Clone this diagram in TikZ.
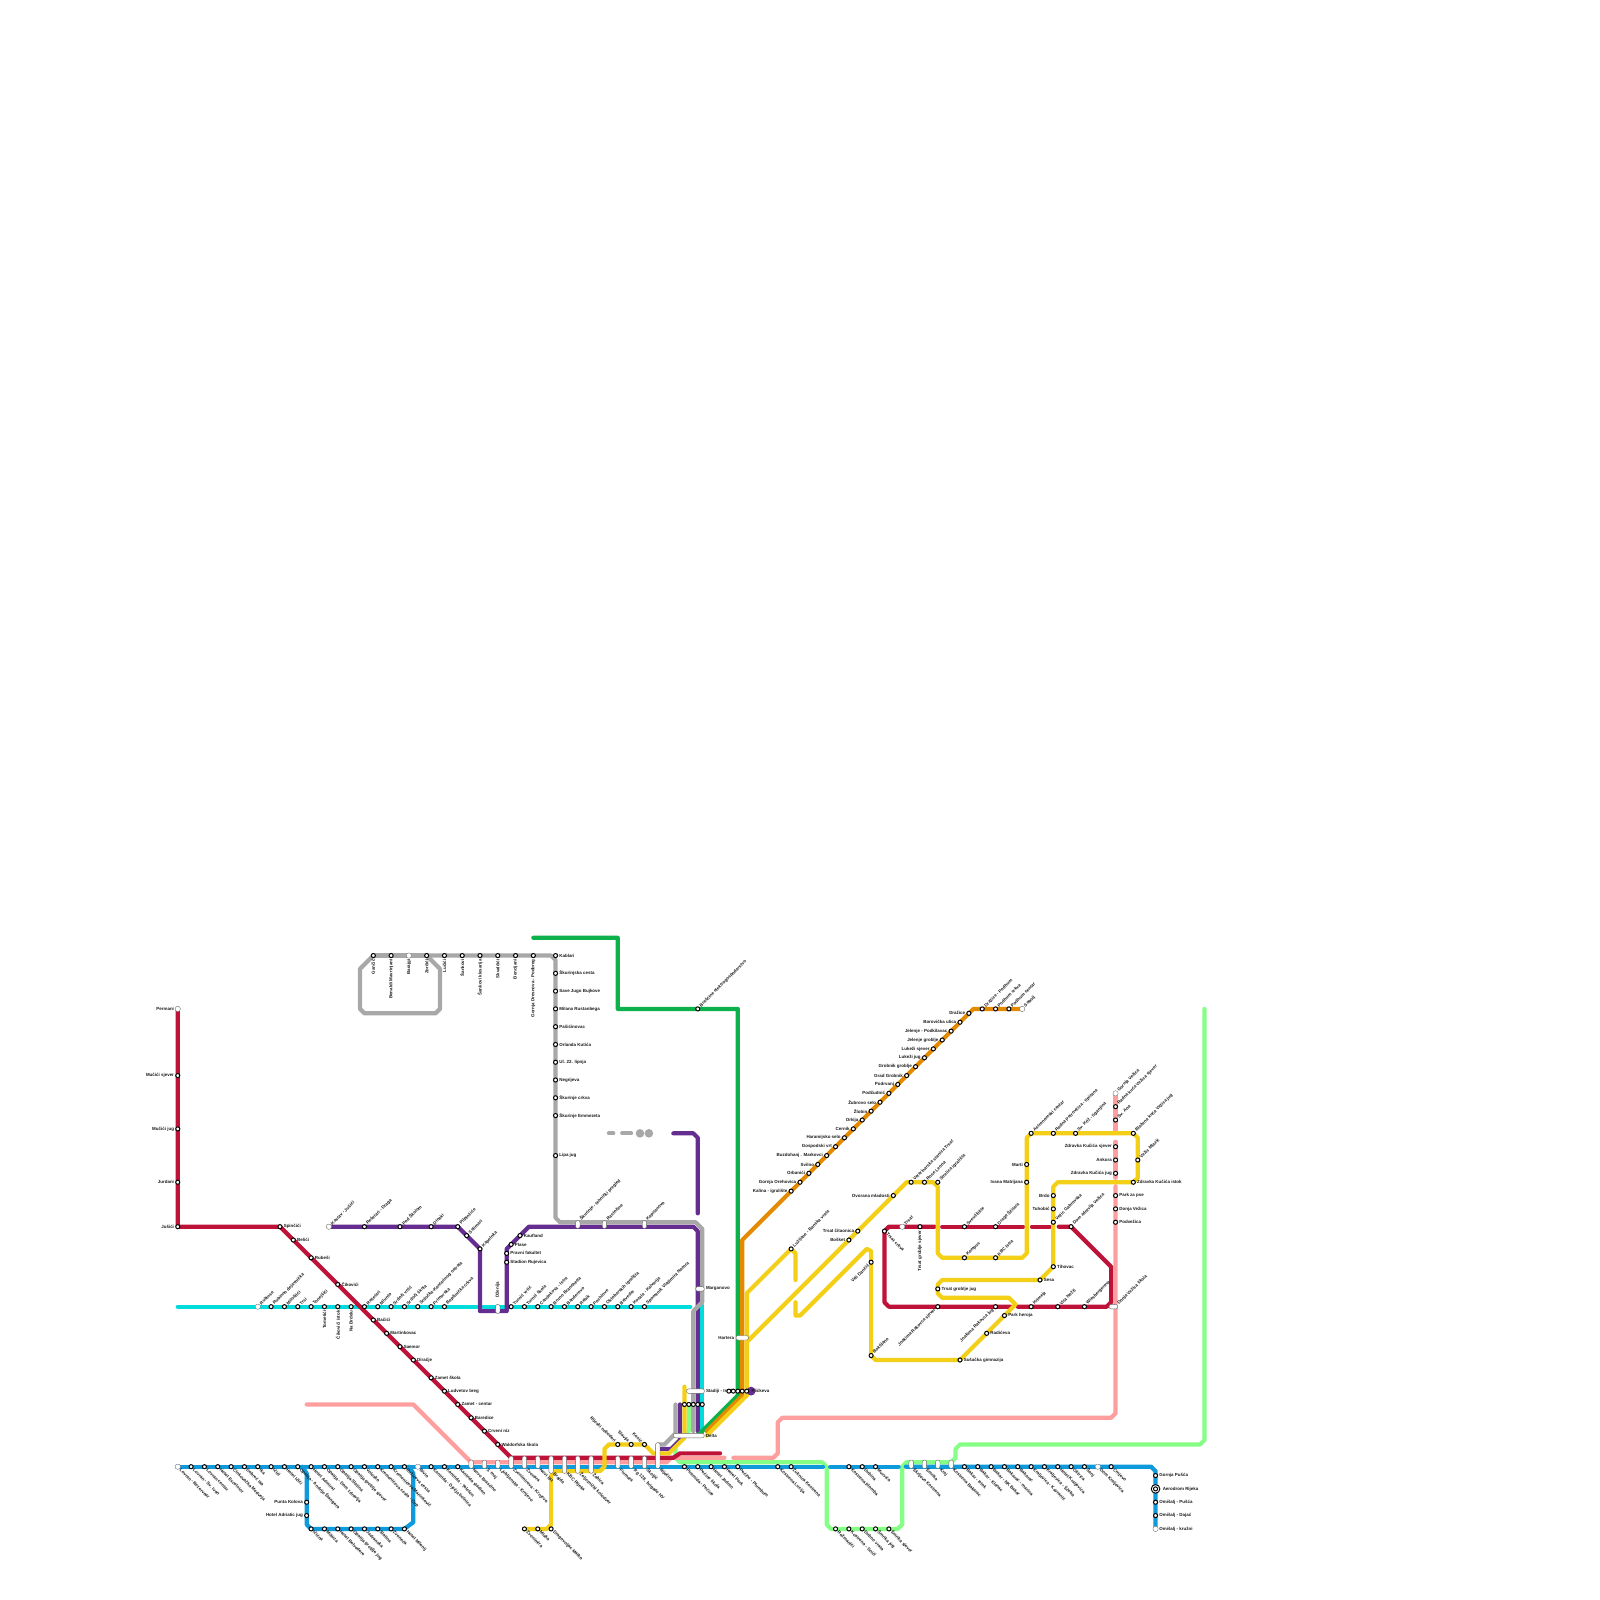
\documentclass[tikz,border=0pt]{standalone}
\usepackage{fontspec}
\setmainfont{Liberation Sans}
\usetikzlibrary{positioning}
\definecolor{lnred}{HTML}{BE1238}
\definecolor{lnteal}{HTML}{00DCDC}
\definecolor{lnblue}{HTML}{0E9ADB}
\definecolor{lngray}{HTML}{A8A8A8}
\definecolor{lnpurple}{HTML}{662D91}
\definecolor{lngreen}{HTML}{0DB14B}
\definecolor{lnorange}{HTML}{E38A00}
\definecolor{lnyellow}{HTML}{F3CF17}
\definecolor{lnlime}{HTML}{85FF85}
\definecolor{lnpink}{HTML}{FF9E9E}
\newcommand{\labfont}{\fontsize{4.45}{5}\selectfont\bfseries}
\tikzset{
    route/.style={line width=4.2pt,line cap=round,line join=round},
    stn/.style={circle,draw=black,fill=white,line width=1pt,inner sep=0pt,minimum size=4.1pt},
    stnopen/.style={circle,draw=black!45,fill=white,line width=0.4pt,inner sep=0pt,minimum size=5.3pt},
    capsule/.style={draw=black!60,fill=white,line width=0.4pt,inner sep=0pt,rounded corners=2pt},
    capv/.style={capsule,minimum width=4.4pt},
    caph/.style={capsule,minimum height=4.5pt},
    lab/.style={font=\labfont,text=black!90,inner xsep=3.6pt,inner ysep=0pt},
    labE/.style={lab,anchor=west},
    labW/.style={lab,anchor=east},
    labUR/.style={lab,anchor=west,rotate=45},
    labDR/.style={lab,anchor=west,rotate=-45},
    labDL/.style={lab,anchor=east,rotate=45},
    labUL/.style={lab,anchor=east,rotate=-45},
    labDN/.style={lab,anchor=east,rotate=90},
    labUP/.style={lab,anchor=west,rotate=90}
}
\newcommand{\stnrow}[2]{%
  \foreach \x/\y/\name in {#2}{
    \node[stn] (s\x-\y) at (\x,\y) {};
    \node[#1] (t\x-\y) at (s\x-\y.center) {\name};
  }}
\begin{document}
\begin{tikzpicture}[x=4.4444pt,y=-4.4444pt]
  \useasboundingbox (0,0) rectangle (360,360);

  \draw[route,lnlime] (271,227)--(271,324)--(270,325)--(216,325)--(215,326)--(215,328)--(214,329)--(204,329)--(203,330)--(203,343)--(202,344)--(187,344)--(186,343)--(186,330)--(185,329)--(153,329)--(152,328)--(152,325)--(155,322)--(155,316);
  \draw[route,lnpink] (69,316)--(93,316)--(106,329)--(150,329)--(151,328)--(163,328);
  \draw[route,lnpink] (165,328)--(174,328)--(175,327)--(175,320)--(176,319)--(250,319)--(251,318)--(251,266.9);
  \draw[route,lnpink] (251,265)--(251,256.9);
  \draw[route,lnpink] (251,254.5)--(251,246);
  \draw[route,lnblue] (40,330)--(185.2,330);
  \draw[route,lnblue] (186.8,330)--(202.2,330);
  \draw[route,lnblue] (203.8,330)--(259,330)--(260,331)--(260,344);
  \draw[route,lnblue] (68,330)--(69,331.5)--(69,343)--(70,344)--(91,344)--(93,342.5)--(93,331.5)--(92,330);
  \draw[route,lnteal] (40,294)--(107.2,294);
  \draw[route,lnteal] (108.8,294)--(155.3,294);
  \draw[route,lnteal] (158,293.7)--(158,323);
  \draw[route,lnred] (40,227)--(40,276)--(63,276)--(115,328)--(151.5,328)--(153,327)--(162,327);
  \draw[route,lnred] (210.3,276)--(200,276)--(199,277)--(199,293)--(200,294)--(227.4,294);
  \draw[route,lnred] (229,294)--(249,294)--(250,293)--(250,285)--(241,276)--(238.2,276);
  \draw[route,lnred] (236.2,276)--(232.2,276);
  \draw[route,lnred] (230.2,276)--(212,276);
  \draw[route,lnpurple] (74,276)--(103,276)--(108,281)--(108,295)--(114,295)--(114,281)--(119,276)--(156,276)--(157,277)--(157,322);
  \draw[route,lnpurple] (148,326)--(151,326)--(153,324)--(153,316);
  \draw[route,lnpurple] (151.5,255)--(156,255)--(157,256)--(157,273);
  \draw[route,lngray] (84,215)--(81,218)--(81,227)--(82,228)--(98,228)--(99,227)--(99,218)--(96,215)--(124,215)--(125,216)--(125,274)--(126,275)--(156.5,275)--(158,276.5)--(158,293)--(156,295)--(156,322);
  \draw[route,lngray] (84,215)--(96,215);
  \draw[route,lngray] (148,325)--(149.5,325)--(152,322.5)--(152,316);
  \draw[route,lngray] (137,255)--(138,255);
  \draw[route,lngray] (140,255)--(142,255);
  \fill[lngray] (144,255) circle (4.3pt);
  \fill[lngray] (146,255) circle (4.3pt);
  \draw[route,lngreen] (120,211)--(139,211)--(139,227)--(166,227)--(166,314)--(157,323);
  \draw[route,lnorange] (230,227)--(219,227)--(167,279)--(167,314)--(159,322);
  \draw[route,lnyellow] (154,312)--(154,323.5)--(150.5,327)--(147,327)--(145,325)--(137,325)--(136,326)--(136,330)--(135,331)--(125,331)--(124,332)--(124,343)--(123,344)--(118,344);
  \draw[route,lnyellow] (159,323)--(168,314)--(168,291)--(178,281)--(179,282)--(179,288);
  \draw[route,lnyellow] (168,314)--(168,302)--(204,266)--(210,266)--(211,267)--(211,282)--(212,283)--(230,283)--(231,282)--(231,256)--(232,255)--(255,255)--(256,256)--(256,265)--(255,266)--(238,266)--(237,267)--(237,285)--(234,288)--(212,288)--(211,289)--(211,291)--(212,292)--(227,292)--(228.5,293.5)--(216,306)--(197,306)--(196,305)--(196,281.5)--(195,281)--(180,296)--(179,296)--(179,293);

  \fill[lnpurple] (169,313) circle (4.4pt);
  \node[labE] (tStadiji) at (158,313) {Stadiji - Istok};
  \foreach \x in {154,155,156,157,158}{
    \node[stn] (b\x) at (\x,316) {};
  }
  \foreach \x in {164,165,166,167,168}{
    \node[stn] (d\x) at (\x,313) {};
  }
  \node[labE,inner xsep=2pt] (tPlickeva) at (168.6,313) {Plićkeva};

  \stnrow{labW}{40/227/Permani,40/242/Mučići sjever,40/254/Mučići jug,40/266/Jurdani,40/276/Jušići,
    69/338/Punta Kolova,69/341/Hotel Adriatic jug,
    218/228/Dražice,216/230/Borovička ulica,214/232/Jelenje - Podkilavac,212/234/Jelenje groblje,210/236/Lukeži sjever,208/238/Lukeži jug,206/240/Grobnik groblje,204/242/Grad Grobnik,202/244/Podrvanj,200/246/Podčudnić,198/248/Žubrovo selo,196/250/Žlobin,194/252/Orkija,192/254/Cernik,190/256/Haramijsko selo,188/258/Gospodski vrt,186/260/Buzdohanj . Markovci,184/262/Svilno,182/264/Orbanići,180/266/Gornja Orehovica,178/268/Kalina - igralište,
    193/277/Trsat čitaonica,191/279/Bošket,201/269/Dvorana mladosti,231/262/Marti,231/266/Ivana Matrijana,237/269/Brdo,237/272/Tuhobić,
    251/258/Zdravka Kučića sjever,251/261/Ankora,251/264/Zdravka Kučića jug}
  \stnrow{labE}{63/276/Spinčići,66/279/Belići,70/283/Rubeši,76/289/Čikovići,84/297/Bačići,87/300/Martinkovac,90/303/Saemor,93/306/Diračje,97/310/Zamet škola,100/313/Ludvetov breg,103/316/Zamet - centar,106/319/Baredice,109/322/Crveni niz,112/325/Waldorfska škola,
    117/278/Kaufland,115/280/Plase,114/282/Pravni fakultet,114/284/Stadion Rujevica,
    125/215/Kablari,125/219/Škurinjska cesta,125/223/Save Jugo Bujkove,125/227/Milana Rustanbega,125/231/Pašićinovac,125/235/Orlanda Kutića,125/239/Ul. 22. lipnja,125/243/Negrijeva,125/247/Škurinje crkva,125/251/Škurinje Emmezeta,125/260/Lipa jug,
    255/266/Zdravka Kučića istok,237/285/Tihovac,234/288/Sesa,211/290/Trsat groblje jug,226/296/Park heroja,222/300/Radićeva,216/306/Sušačka gimnazija,
    251/269/Park za pse,251/272/Donja Vežica,251/275/Podvežica,
    260/332/Gornja Pušća,260/338/Omišalj - Pušća,260/341/Omišalj - Dajać,260/344/Omišalj - kružni}
  \stnrow{labDN}{84/215/Gančić,88/215/Benaldi Mavrinjani,92/215/Barajgi,96/215/Zorčići,100/215/Lučići,104/215/Šankovi,108/215/Šankovi klesarija,112/215/Skvalčići,116/215/Bencijani,120/215/Gornja Dresnova - Podbreg,
    73/294/Tometići,76/294/Čikovići istok,79/294/Na Brdelu,207/276/Trsat groblje sjever}
  \stnrow{labUR}{74/276/Kastav - Jušići,82/276/Rešetari - Draga,90/276/Pod Školom,97/276/Dinaki,103/276/Pilpinčiće,105/278/Selimari,108/281/Kapelnka,
    58/294/Rubinse,61/294/Rubinno dejavnička,64/294/Miloštići,67/294/Trsi,70/294/Tonejšići,82/294/Rešetari,85/294/Mlunto,88/294/Srdoči vrtić,91/294/Srdoči škola,94/294/Srdočka-Kantarinog ostrata,97/294/Primorska,100/294/Bepčinička crkva,
    115/294/Turnić vrtić,118/294/Turnić škola,121/294/Candekova - Istra,124/294/Bruno Branchetta,127/294/Banderovo,130/294/Rebik,133/294/Pochlove,136/294/Oktobarskih igrališta,139/294/Belveder,142/294/Kozala - Kalvarija,145/294/Spomenik Vladimira Nazora,
    157/227/Brašćine elektrogospodarstvo,221/227/Dražice - Podhum,224/227/Podhum crkva,227/227/Podhum centar,230/227/Sobolj,
    178/281/Lužijane - Banska vrata,205/266/Veterinarska stanica Trsat,208/266/Rose Leona,211/266/Strelica igrališta,217/283/Kampus,224/283/KBC Istra,
    232/255/Astronomski centar,237/255/Radna Petrovčica - tipizana,242/255/Sv. Križ - tiganjina,255/255/Blažena kuća Vežica jug,256/261/Vežic Mlazić,237/275/Vežic Gabrovska,196/305/Boktijano,
    203/276/Trsat,217/276/Sveučilište,224/276/Drage Ščitara,241/276/Dom zdravlja Vežica,244/294/Wiesbergerova,238/294/Vita Nežić,232/294/Krimeja,
    251/246/Gornja Vežica,251/249/Radna kuća Vežica sjever,251/252/Sv. Ana}
  \stnrow{labDL}{196/284/Veli Dančić,224/294/Joakima Rakovca jug,211/294/Joakima Rakovca sjever}
  \stnrow{labUL}{139/325/Rijeski neboderi,142/325/Slavija,145/325/Kosić}
  \stnrow{labDR}{199/277/Trsat crkva,
    40/330/Lovran - Rezervoar,43/330/Lovran - Sv. Ivan,46/330/Lovran centar,49/330/Hotel Excelsior,52/330/Ćinkovačka Medveja,55/330/Dobreć Ika,58/330/Ika,61/330/Ičići,64/330/Hotel Ičići,67/330/Opatija - Andrije Štangera,70/330/Hotel Admiral,73/330/Opatija - Dom zdravlja,76/330/Opatija Slatina,79/330/Opatija groblje sjever,82/330/Volosko,85/330/Kremenićeva cesta - Cup,88/330/Kremenićeva Marinković,91/330/Ružićeva cesta,94/330/Bivio,97/330/Kantrida - Dječja bolnica,100/330/Kantrida - Telefon,103/330/Kantrida stadion,
    70/344/Ičićna,73/344/Mikuza,76/344/Hotel Belvedere,79/344/Opatija groblje jug,82/344/Jadranska,85/344/Slatina,88/344/Zvoneća,91/344/Hotel Milenij,
    118/344/Zvonimira,121/344/Mlaka,124/344/Dragovoljac Matko,
    154/330/Piramida - Pećine,157/330/Pećine škola,160/330/Hotel Jadran,163/330/Hotel Park,166/330/Pećine - Plumbum,175/330/Kostrena Lucija,178/330/Žuknica Kostrena,
    191/330/Kostrena plomba,194/330/Dubina,197/330/Murvica,
    188/344/Rožmanići,191/344/Kostrena - Soići,194/344/Dubno vrata,197/344/Šmrika jug,200/344/Šmrika sjever,
    217/330/Bakar - Istok,220/330/Bakar - Klanac,223/330/Bakar - NK Bakar,226/330/Bakarac - marina,229/330/Bakarac,232/330/Kraljevica - Kavranić,235/330/Kraljevica - Ščeba,238/330/Hotel Kraljevica,241/330/Oštrica,244/330/Šanj,247/330/Dom Kraljevica,250/330/Crnjevo}

  \foreach \x/\y/\h in {106/329.45/8.4,109/329.45/8.4,112/329.45/8.4,115/329/12.3,118/329/12.3,121/329/12.3,124/329.55/17.3,127/329.55/17.3,130/329.55/17.3,133/329.55/17.3,139/329/12.3,142/329/12.3,145/329/12.3,148/327.5/25.7,205/329.45/8.4,208/329.45/8.4,211/329.45/8.4,214/329.45/8.4,130/275.5/7.7,136/275.5/7.7,145/275.5/7.7,112/294.5/9}{
    \node[capv,minimum height=\h pt] (c\x-\h) at (\x,\y) {};
  }
  \foreach \x/\y/\w/\lb in {157.5/290/8.5/Mg,156.5/313/17.8/St,155/323/30.7/De,167/301/12.5/Ha,250.5/294/8.5/Dv}{
    \node[caph,minimum width=\w pt] (c\lb) at (\x,\y) {};
  }
  \foreach \x/\y/\name in {106/330/Novo Brasćine,109/330/3. maj,112/330/Ljubljanska - Krnjevo,115/330/Zvonimirova - Krnjevo,118/330/Zvonara,121/330/Novi list,124/331/Brajda,127/331/KBC Rijeka,130/331/Željeznički kolodvor,133/331/Žabica,139/330/Fiumara,142/330/Trg 128. brigade HV,145/330/Školjić,148/330/Riječina,205/330/Škrljevo Kostrena,208/330/Šmrika,211/330/Kraj,214/330/Kostrena Bakarac}{
    \node[labDR] (k\x) at (\x,\y) {\name};
  }
  \foreach \x/\y/\name in {130/275/Škurinje - tehnički pregled,136/275/Rastočine,145/275/Kapitanovo,251/294/Donja Vežica škola}{
    \node[labUR] (k\x) at (\x,\y) {\name};
  }
  \node[labUP] (kDzenija) at (112,292.8) {Dženija};
  \node[labE] (kMg) at (158,290) {Marganovo};
  \node[labE] (kDe) at (158,323) {Delta};
  \node[labW] (kHa) at (166,301) {Hartera};

  \node[circle,draw=black,fill=white,line width=0.9pt,inner sep=0pt,minimum size=8.6pt] (sAero) at (260,335) {};
  \node[stn] (sAeroIn) at (sAero) {};
  \node[labE,inner xsep=7pt] (tAero) at (sAero) {Aerodrom Rijeka};

  \foreach \x/\y in {40/227,58/294,74/276,92/215,203/276,230/227,251/246,40/330,94/330,247/330,260/344}{
    \node[stnopen] (o\x-\y) at (\x,\y) {};
  }
\end{tikzpicture}
\end{document}
